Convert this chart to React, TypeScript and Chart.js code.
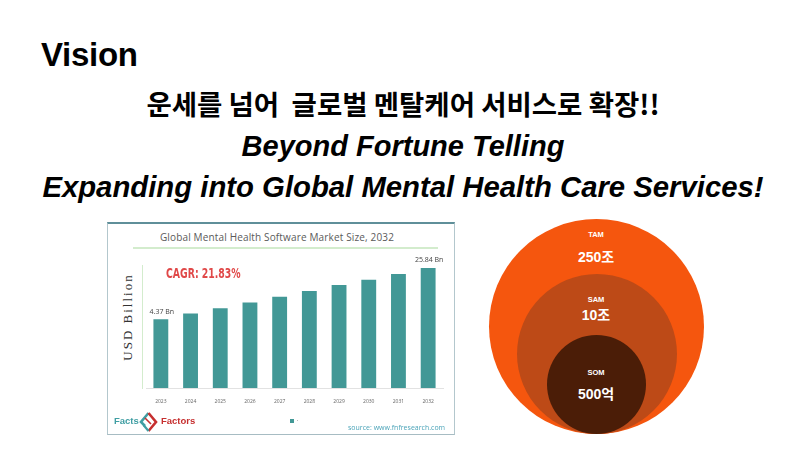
import React, { useEffect, useRef } from "react";
import { Chart, registerables } from "chart.js";

Chart.register(...registerables);

// ---- data ----
const years = ["2023", "2024", "2025", "2026", "2027", "2028", "2029", "2030", "2031", "2032"];
const marketSize = [4.37, 6.76, 9.0, 11.39, 13.77, 16.16, 18.68, 20.93, 23.31, 25.84];
const valueLabels = ["4.37 Bn", "", "", "", "", "", "", "", "", "25.84 Bn"];
const axisMin = -24.39;
const axisMax = 30;
const chartTitle = "Global Mental Health Software Market Size, 2032";
const cagrText = "CAGR: 21.83%";
const yAxisTitle = "USD Billion";
const circleNames = ["TAM", "SAM", "SOM"];
const circleValues = ["250조", "10조", "500억"];

const SANS = "'Liberation Sans', Arial, Helvetica, sans-serif";

const barLabelPlugin = {
  id: "barLabels",
  afterDatasetsDraw(chart: any) {
    const ctx = chart.ctx;
    const meta = chart.getDatasetMeta(0);
    ctx.save();
    ctx.font = "7px 'Open Sans', sans-serif";
    ctx.fillStyle = "#444";
    ctx.textAlign = "center";
    ctx.textBaseline = "bottom";
    meta.data.forEach((bar: any, i: number) => {
      const t = valueLabels[i];
      if (t) ctx.fillText(t, bar.x + 1, bar.y - 4);
    });
    ctx.restore();
  },
};

function BarChart() {
  const ref = useRef<HTMLCanvasElement | null>(null);
  useEffect(() => {
    if (!ref.current) return;
    const chart = new Chart(ref.current, {
      type: "bar",
      data: {
        labels: years,
        datasets: [
          {
            label: "",
            data: marketSize,
            base: axisMin,
            backgroundColor: "#429896",
            borderWidth: 0,
            barPercentage: 0.5,
            categoryPercentage: 1.0,
          } as any,
        ],
      },
      options: {
        responsive: false,
        animation: false,
        events: [],
        layout: { padding: { left: 39, right: 12, top: 36, bottom: 19 } },
        plugins: { legend: { display: false }, tooltip: { enabled: false } },
        scales: {
          x: {
            grid: { display: false, drawTicks: false },
            border: { display: true, color: "#e2e2e2", width: 1 },
            ticks: {
              font: { size: 5, family: "'Open Sans', sans-serif" },
              color: "#666",
              padding: 11,
              maxRotation: 0,
              autoSkip: false,
            },
          },
          y: {
            display: false,
            min: axisMin,
            max: axisMax,
          },
        },
      },
      plugins: [barLabelPlugin],
    });
    return () => chart.destroy();
  }, []);
  return (
    <canvas
      ref={ref}
      width={348}
      height={213}
      style={{ position: "absolute", left: 107, top: 222, width: 348, height: 213 }}
    />
  );
}

function abs(extra: React.CSSProperties): React.CSSProperties {
  return { position: "absolute", whiteSpace: "nowrap", ...extra };
}

export default function App() {
  useEffect(() => {
    document.body.style.margin = "0";
  }, []);

  const circles = [
    { cx: 596, cy: 326.5, r: 107.5, color: "#f5560e" },
    { cx: 596.5, cy: 354, r: 80, color: "#bd4a17" },
    { cx: 596.5, cy: 384.5, r: 49.5, color: "#4b1d07" },
  ];
  const nameY = [235, 299.5, 372.5];
  const valueY = [256.5, 315, 394];

  return (
    <div
      style={{
        position: "fixed",
        left: 0,
        top: 0,
        width: 806,
        height: 453,
        background: "#fff",
        overflow: "hidden",
        fontFamily: SANS,
      }}
    >
      {/* Header */}
      <div style={abs({ left: 41, top: 35, fontSize: 33, fontWeight: 700, color: "#000", lineHeight: "40px", letterSpacing: "-0.3px" })}>Vision</div>
      <div
        style={abs({
          left: 0,
          width: 806,
          top: 85,
          textAlign: "center",
          fontSize: 27.5,
          fontWeight: 700,
          color: "#000",
          lineHeight: "36px",
          fontFamily: "'Noto Sans CJK KR', sans-serif",
        })}
      >
        운세를 넘어&nbsp; 글로벌 멘탈케어 서비스로 확장!!
      </div>
      <div
        style={abs({
          left: 0,
          width: 806,
          top: 128,
          textAlign: "center",
          fontSize: 29,
          fontWeight: 700,
          fontStyle: "italic",
          color: "#000",
          lineHeight: "36px",
        })}
      >
        Beyond Fortune Telling
      </div>
      <div
        style={abs({
          left: 0,
          width: 806,
          top: 169,
          textAlign: "center",
          fontSize: 29.3,
          fontWeight: 700,
          fontStyle: "italic",
          color: "#000",
          lineHeight: "36px",
        })}
      >
        Expanding into Global Mental Health Care Services!
      </div>

      {/* Chart frame */}
      <div
        style={{
          position: "absolute",
          left: 107,
          top: 222,
          width: 348,
          height: 213,
          boxSizing: "border-box",
          borderLeft: "1.5px solid #b3c7cd",
          borderRight: "1.5px solid #b3c7cd",
          borderBottom: "1.5px solid #a7bcc3",
          borderTop: "2px solid #5f8f99",
        }}
      />
      <div
        style={abs({
          left: 103,
          width: 348,
          top: 230,
          textAlign: "center",
          fontSize: 10,
          color: "#5a5a5a",
          fontFamily: "'Open Sans', sans-serif",
          lineHeight: "14px",
          letterSpacing: "0.15px",
        })}
      >
        {chartTitle}
      </div>
      <div style={abs({ left: 133, top: 247, width: 305, height: 1.5, background: "#d3eccd" })} />
      <div style={abs({ left: 141.5, top: 265, width: 1.5, height: 124, background: "#d3eccd" })} />
      <div
        style={abs({
          left: 127.5,
          top: 316.5,
          transform: "translate(-50%, -50%) rotate(-90deg)",
          fontFamily: "'Liberation Serif', 'DejaVu Serif', serif",
          fontSize: 13,
          letterSpacing: "2px",
          color: "#333",
          lineHeight: "14px",
        })}
      >
        {yAxisTitle}
      </div>
      <BarChart />
      <div
        style={abs({
          left: 166,
          top: 264,
          fontFamily: "'DejaVu Sans Condensed', 'DejaVu Sans', sans-serif",
          fontWeight: 700,
          fontSize: 14,
          lineHeight: "18px",
          color: "#e04848",
          transform: "scaleX(0.74)",
          transformOrigin: "left center",
        })}
      >
        {cagrText}
      </div>

      {/* Footer of chart image */}
      <div style={abs({ left: 114, top: 415, fontSize: 9.5, fontWeight: 700, color: "#3f9ea3", lineHeight: "12px" })}>Facts</div>
      <svg style={{ position: "absolute", left: 139, top: 412 }} width={19} height={20} viewBox="0 0 19 20">
        <path d="M9.5 1 L2 10 L6 14" stroke="#3f9ea3" strokeWidth={2.6} fill="none" />
        <path d="M9.5 1 L17 10 L9.5 19" stroke="#c62f2f" strokeWidth={2.6} fill="none" />
        <path d="M6 6 L12 12" stroke="#c62f2f" strokeWidth={1.6} fill="none" />
        <path d="M9.5 19 L4.5 13" stroke="#3f9ea3" strokeWidth={2.2} fill="none" />
      </svg>
      <div style={abs({ left: 161, top: 415, fontSize: 9.5, fontWeight: 700, color: "#c62f2f", lineHeight: "12px" })}>Factors</div>
      <div style={abs({ left: 290, top: 419, width: 4, height: 4, background: "#429896" })} />
      <div style={abs({ left: 297, top: 420, width: 1, height: 1, background: "#bbb" })} />
      <div
        style={abs({
          left: 348,
          top: 423,
          fontSize: 7,
          color: "#4aa3b8",
          lineHeight: "9px",
          fontFamily: "'Open Sans', sans-serif",
        })}
      >
        source: www.fnfresearch.com
      </div>

      {/* TAM / SAM / SOM circles */}
      {circles.map((c, i) => (
        <div
          key={"c" + i}
          style={{
            position: "absolute",
            left: c.cx - c.r,
            top: c.cy - c.r,
            width: c.r * 2,
            height: c.r * 2,
            borderRadius: "50%",
            background: c.color,
          }}
        />
      ))}
      {circleNames.map((n, i) => (
        <div
          key={"n" + i}
          style={abs({
            left: 596,
            top: nameY[i],
            transform: "translate(-50%, -50%)",
            color: "#fff",
            fontWeight: 700,
            fontSize: 7.5,
            lineHeight: "10px",
          })}
        >
          {n}
        </div>
      ))}
      {circleValues.map((v, i) => (
        <div
          key={"v" + i}
          style={abs({
            left: 596,
            top: valueY[i],
            transform: "translate(-50%, -50%)",
            color: "#fff",
            fontWeight: 700,
            fontSize: 14,
            lineHeight: "18px",
            fontFamily: "'Liberation Sans', 'Noto Sans CJK KR', sans-serif",
          })}
        >
          {v}
        </div>
      ))}
    </div>
  );
}
